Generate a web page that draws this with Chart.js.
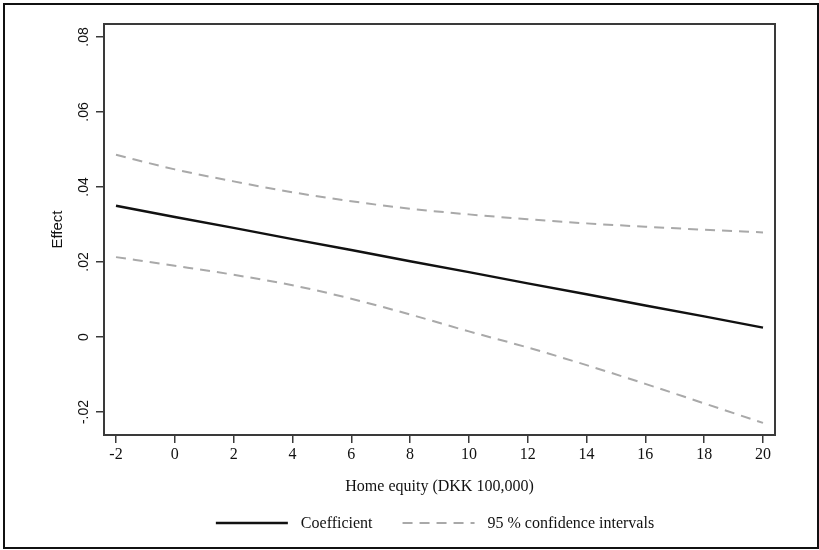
<!DOCTYPE html>
<html><head><meta charset="utf-8">
<script src="https://cdn.jsdelivr.net/npm/chart.js@4/dist/chart.umd.min.js"></script>
<style>html,body{margin:0;padding:0;background:#fff}#wrap{width:819px;height:550px;position:relative}</style>
</head><body><div id="wrap"><canvas id="c" width="819" height="550"></canvas></div>
<script>
const homeEquity = [-2, 0, 2, 4, 6, 8, 10, 12, 14, 16, 18, 20];
const coefficient = [0.0350, 0.0320, 0.0291, 0.0261, 0.0232, 0.0202, 0.0173, 0.0143, 0.0114, 0.0084, 0.0055, 0.0025];
const upperCI = [0.0486, 0.0447, 0.0415, 0.0386, 0.0362, 0.0342, 0.0327, 0.0314, 0.0303, 0.0294, 0.0286, 0.0279];
const lowerCI = [0.0213, 0.0190, 0.0166, 0.0138, 0.0102, 0.0060, 0.0015, -0.0028, -0.0075, -0.0125, -0.0177, -0.0229];
const xTickValues = [-2, 0, 2, 4, 6, 8, 10, 12, 14, 16, 18, 20];
const yTickValues = [-0.02, 0, 0.02, 0.04, 0.06, 0.08];
const yTickLabels = ['-.02', '0', '.02', '.04', '.06', '.08'];
const seriesLabels = ['Coefficient', '95 % confidence intervals'];
const xTitle = 'Home equity (DKK 100,000)';
const yTitle = 'Effect';

const pts = arr => homeEquity.map((x, i) => ({x: x, y: arr[i]}));
const GRAY = '#a9a9a9', INK = '#111111', AXIS = '#3a3a3a', TEXT = '#111111';
const SERIF = '"Liberation Serif", "Times New Roman", serif';
const SANS = '"Liberation Sans", Arial, sans-serif';

const framePlugin = {
  id: 'frame',
  afterDraw(chart) {
    const {ctx, chartArea: a} = chart;
    ctx.save();
    ctx.strokeStyle = AXIS; ctx.lineWidth = 2;
    ctx.strokeRect(a.left, a.top, a.right - a.left, a.bottom - a.top);
    ctx.strokeStyle = '#111'; ctx.lineWidth = 2;
    ctx.strokeRect(4, 4, 814, 544);
    ctx.restore();
  }
};

const legendPlugin = {
  id: 'customLegend',
  afterDraw(chart) {
    const ctx = chart.ctx;
    const ds = chart.data.datasets.filter(d => !d.hideInLegend);
    const sampleW = 72, gapText = 13, gapItem = 30, y = 523;
    ctx.save();
    ctx.font = '16px ' + SERIF;
    const widths = ds.map(d => ctx.measureText(d.label).width);
    const total = ds.length * (sampleW + gapText) + widths.reduce((s, w) => s + w, 0) + gapItem * (ds.length - 1);
    let x = 435 - total / 2;
    ds.forEach((d, i) => {
      ctx.beginPath();
      ctx.setLineDash(d.borderDash || []);
      ctx.strokeStyle = d.borderColor; ctx.lineWidth = d.borderWidth;
      ctx.moveTo(x, y); ctx.lineTo(x + sampleW, y); ctx.stroke();
      ctx.setLineDash([]);
      x += sampleW + gapText;
      ctx.fillStyle = TEXT; ctx.textBaseline = 'middle'; ctx.textAlign = 'left';
      ctx.fillText(d.label, x, y + 1);
      x += widths[i] + gapItem;
    });
    ctx.restore();
  }
};

new Chart(document.getElementById('c'), {
  type: 'line',
  data: {
    datasets: [
      {label: seriesLabels[0], data: pts(coefficient), borderColor: INK, borderWidth: 2.5, pointRadius: 0, fill: false},
      {label: seriesLabels[1], data: pts(upperCI), borderColor: GRAY, borderWidth: 2, borderDash: [10, 7], pointRadius: 0, fill: false, cubicInterpolationMode: 'monotone'},
      {label: seriesLabels[1], data: pts(lowerCI), borderColor: GRAY, borderWidth: 2, borderDash: [10, 7], pointRadius: 0, fill: false, cubicInterpolationMode: 'monotone', hideInLegend: true}
    ]
  },
  options: {
    responsive: false, animation: false, devicePixelRatio: 1,
    layout: {padding: {left: 45, right: 44, top: 24, bottom: 50}},
    plugins: {legend: {display: false}, tooltip: {enabled: false}},
    scales: {
      x: {
        type: 'linear', min: -2.408, max: 20.408,
        afterBuildTicks: s => { s.ticks = xTickValues.map(v => ({value: v})); },
        afterFit: s => { s.height = 65; },
        grid: {drawOnChartArea: false, drawTicks: true, tickLength: 8, color: AXIS, lineWidth: 1.5},
        border: {display: false},
        ticks: {color: TEXT, font: {family: SERIF, size: 16}, padding: 2, maxRotation: 0, autoSkip: false},
        title: {display: true, text: xTitle, color: TEXT, font: {family: SERIF, size: 16}, padding: {top: 4, bottom: 4}}
      },
      y: {
        type: 'linear', min: -0.026133, max: 0.083467,
        afterBuildTicks: s => { s.ticks = yTickValues.map(v => ({value: v})); },
        afterFit: s => { s.width = 59; },
        grid: {drawOnChartArea: false, drawTicks: true, tickLength: 8, color: AXIS, lineWidth: 1.5},
        border: {display: false},
        ticks: {color: TEXT, font: {family: SANS, size: 14}, padding: 0, minRotation: 90, maxRotation: 90, crossAlign: 'center', autoSkip: false,
          callback: (v) => { const i = yTickValues.findIndex(t => Math.abs(t - v) < 1e-9); return i >= 0 ? yTickLabels[i] : ''; }},
        title: {display: true, text: yTitle, color: TEXT, font: {family: SANS, size: 15}, padding: {top: 4, bottom: 4}}
      }
    }
  },
  plugins: [framePlugin, legendPlugin]
});
</script></body></html>
